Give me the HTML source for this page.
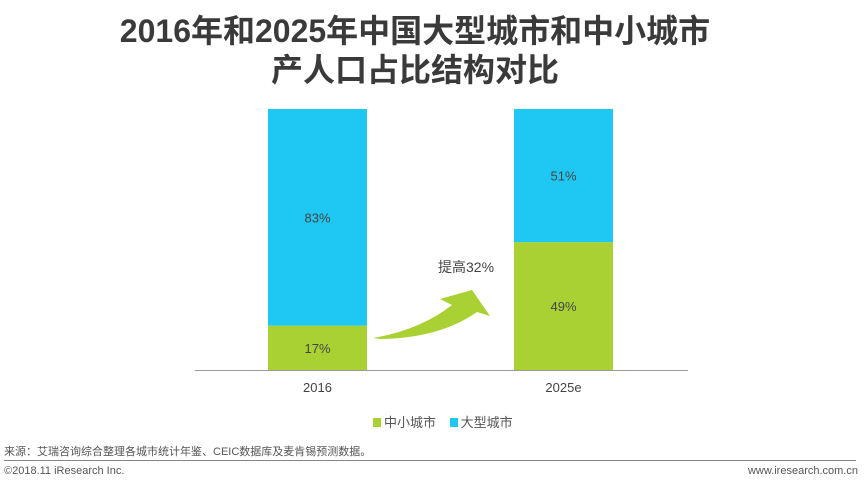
<!DOCTYPE html>
<html><head><meta charset="utf-8"><style>
body{margin:0;width:864px;height:484px;background:#fff;position:relative;overflow:hidden;font-family:"Liberation Sans","Noto Sans CJK SC",sans-serif;}
.t{position:absolute;white-space:nowrap;}
</style></head><body>
<div class="t" style="left:-17px;width:864px;text-align:center;top:12px;font-size:32px;font-weight:bold;color:#3a3a3a;line-height:39px;">2016年和2025年中国大型城市和中小城市<br>产人口占比结构对比</div>
<svg id="c" width="864" height="484" style="position:absolute;left:0;top:0"></svg>
<div class="t" style="left:373px;top:412px;font-size:13px;color:#555;">
<span><span style="display:inline-block;width:8px;height:9px;background:#a9d133;margin-right:3px"></span>中小城市</span>
<span style="margin-left:10px"><span style="display:inline-block;width:8px;height:9px;background:#1ec8f2;margin-right:3px"></span>大型城市</span></div>
<div class="t" style="left:4px;top:443px;font-size:11px;color:#555;">来源：艾瑞咨询综合整理各城市统计年鉴、CEIC数据库及麦肯锡预测数据。</div>
<div style="position:absolute;left:4px;width:852px;top:460px;height:1px;background:#888"></div>
<div class="t" style="left:4px;top:465px;font-size:11px;color:#555;">©2018.11 iResearch Inc.</div>
<div class="t" style="right:6px;top:465px;font-size:11px;color:#555;">www.iresearch.com.cn</div>
<script>
const categories=["2016","2025e"];
const smallCity=[17,49];
const largeCity=[83,51];
const svg=document.getElementById('c');const NS='http://www.w3.org/2000/svg';
const base=370,h=261,barW=99;
const xPos=i=>268+i*246;
const yScale=v=>v/100*h;
function mk(t,a){const e=document.createElementNS(NS,t);for(const k in a)e.setAttribute(k,a[k]);svg.appendChild(e);return e;}
categories.forEach((c,i)=>{
 const x=xPos(i),hs=yScale(smallCity[i]),hl=yScale(largeCity[i]);
 let r=mk('rect',{x:x,y:base-hs,width:barW,height:hs,fill:'#a9d133'});
 
 
 r=mk('rect',{x:x,y:base-hs-hl,width:barW,height:hl,fill:'#1ec8f2'});
 
 
 let t=mk('text',{x:x+barW/2,y:base-hs/2+5,'text-anchor':'middle','font-size':13,fill:'#444'});t.textContent=smallCity[i]+'%';
 
 
 t=mk('text',{x:x+barW/2,y:base-hs-hl/2+5,'text-anchor':'middle','font-size':13,fill:'#444'});t.textContent=largeCity[i]+'%';
 
 
 t=mk('text',{x:x+barW/2,y:392,'text-anchor':'middle','font-size':13,fill:'#444'});t.textContent=c;
 
 
});
let ax=mk('line',{x1:195,x2:688,y1:base+0.5,y2:base+0.5,stroke:'#999','stroke-width':1});


let ar=mk('path',{d:'M373,338 Q420,330 452,305 L440,299 L472,290 L490,316 L477,312 Q440,338 381,339 Z',fill:'#a9d133'});


let at=mk('text',{x:438,y:272,'font-size':14,fill:'#444'});at.textContent='提高32%';


</script>
</body></html>
